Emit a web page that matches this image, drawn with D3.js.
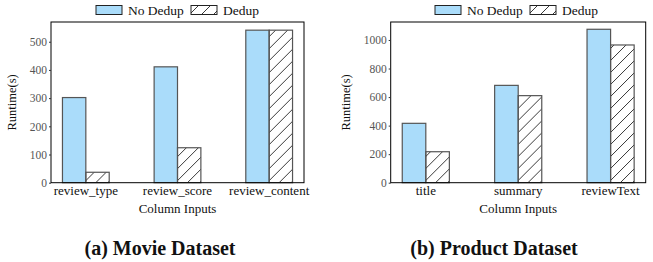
<!DOCTYPE html>
<html>
<head>
<meta charset="utf-8">
<script src="https://cdn.jsdelivr.net/npm/d3@7"></script>
<style>
  body { margin: 0; background: #fff; }
</style>
</head>
<body>
<div id="chart"></div>
<script>
const width = 653;
const height = 262;
const serif = '"Liberation Serif", "Times New Roman", serif';

const series = ["No Dedup", "Dedup"];

const movieCols = ["review_type", "review_score", "review_content"];
const movieNoDedup = [302, 411, 541];
const movieDedup = [37, 124, 541];
const movieTicks = [0, 100, 200, 300, 400, 500];

const productCols = ["title", "summary", "reviewText"];
const productNoDedup = [416, 682, 1075];
const productDedup = [217, 610, 965];
const productTicks = [0, 200, 400, 600, 800, 1000];

const blue = "#aadcfa";

const svg = d3.select("#chart")
    .append("svg")
    .attr("width", width)
    .attr("height", height);

// hatch for the dedup bars
svg.append("defs").append("pattern")
    .attr("id", "hatch")
    .attr("patternUnits", "userSpaceOnUse")
    .attr("width", 12)
    .attr("height", 12)
  .append("path")
    .attr("d", "M-3,3 L3,-3 M0,12 L12,0 M9,15 L15,9")
    .attr("stroke", "#222")
    .attr("stroke-width", 0.9);

function drawPanel(cfg) {
    const g = svg.append("g");

    const x = d3.scaleBand()
        .domain(cfg.cols)
        .range([cfg.left, cfg.right])
        .paddingInner(0.49)
        .paddingOuter(0.125);

    const xs = d3.scaleBand()
        .domain(series)
        .range([0, x.bandwidth()]);

    const y = d3.scaleLinear()
        .domain([0, cfg.ymax])
        .range([cfg.bottom, cfg.top]);

    const rows = cfg.cols.map((c, i) => ({col: c, vals: [cfg.noDedup[i], cfg.dedup[i]]}));

    const grp = g.selectAll(".grp")
        .data(rows)
        .enter().append("g")
        .attr("transform", d => `translate(${x(d.col)},0)`);

    grp.selectAll("rect")
        .data(d => d.vals.map((v, j) => ({s: series[j], v: v})))
        .enter().append("rect")
        .attr("x", d => xs(d.s))
        .attr("y", d => y(d.v))
        .attr("width", xs.bandwidth())
        .attr("height", d => cfg.bottom - y(d.v))
        .attr("fill", d => d.s === "Dedup" ? "url(#hatch)" : blue)
        .attr("stroke", "#555")
        .attr("stroke-width", 1.2);

    // frame
    g.append("rect")
        .attr("x", cfg.left)
        .attr("y", cfg.top)
        .attr("width", cfg.right - cfg.left)
        .attr("height", cfg.bottom - cfg.top)
        .attr("fill", "none")
        .attr("stroke", "#000")
        .attr("stroke-width", 1);

    const yAxis = g.append("g")
        .attr("transform", `translate(${cfg.left},0)`)
        .call(d3.axisLeft(y).tickValues(cfg.ticks).tickFormat(d3.format("d")).tickSize(2).tickPadding(2));
    yAxis.select(".domain").remove();
    yAxis.selectAll("line").attr("stroke", "#333");
    yAxis.selectAll("text")
        .style("font-family", serif)
        .style("font-size", "11.5px")
        .attr("fill", "#555");

    const xAxis = g.append("g")
        .attr("transform", `translate(0,${cfg.bottom})`)
        .call(d3.axisBottom(x).tickSize(0).tickPadding(3));
    xAxis.select(".domain").remove();
    xAxis.selectAll("text")
        .style("font-family", serif)
        .style("font-size", "13px")
        .attr("fill", "#111");

    g.append("text")
        .attr("transform", `translate(${cfg.ylabelX},${(cfg.top + cfg.bottom) / 2}) rotate(-90)`)
        .attr("text-anchor", "middle")
        .style("font-family", serif)
        .style("font-size", "12.5px")
        .attr("fill", "#111")
        .text("Runtime(s)");

    g.append("text")
        .attr("x", (cfg.left + cfg.right) / 2)
        .attr("y", 213)
        .attr("text-anchor", "middle")
        .style("font-family", serif)
        .style("font-size", "13px")
        .attr("fill", "#111")
        .text("Column Inputs");

    g.append("text")
        .attr("x", cfg.titleX)
        .attr("y", 255)
        .attr("text-anchor", "middle")
        .style("font-family", serif)
        .style("font-size", "20px")
        .style("font-weight", "bold")
        .attr("fill", "#111")
        .text(cfg.title);

    // legend
    const lg = g.append("g").attr("transform", `translate(${cfg.legendX},0)`);
    lg.append("rect")
        .attr("x", 0).attr("y", 5.5).attr("width", 26).attr("height", 9)
        .attr("fill", blue).attr("stroke", "#222").attr("stroke-width", 1);
    lg.append("text")
        .attr("x", 32).attr("y", 14.5)
        .style("font-family", serif)
        .style("font-size", "13.5px")
        .attr("fill", "#111")
        .text(series[0]);
    lg.append("rect")
        .attr("x", 95).attr("y", 5.5).attr("width", 26).attr("height", 9)
        .attr("fill", "url(#hatch)").attr("stroke", "#222").attr("stroke-width", 1);
    lg.append("text")
        .attr("x", 127).attr("y", 14.5)
        .style("font-family", serif)
        .style("font-size", "13.5px")
        .attr("fill", "#111")
        .text(series[1]);
}

drawPanel({
    cols: movieCols, noDedup: movieNoDedup, dedup: movieDedup, ticks: movieTicks,
    left: 51, right: 304, top: 22, bottom: 182.7, ymax: 570,
    ylabelX: 16, titleX: 160, legendX: 96, title: "(a) Movie Dataset"
});

drawPanel({
    cols: productCols, noDedup: productNoDedup, dedup: productDedup, ticks: productTicks,
    left: 390.7, right: 645.7, top: 22, bottom: 182.7, ymax: 1126,
    ylabelX: 350, titleX: 494, legendX: 435, title: "(b) Product Dataset"
});
</script>
</body>
</html>
